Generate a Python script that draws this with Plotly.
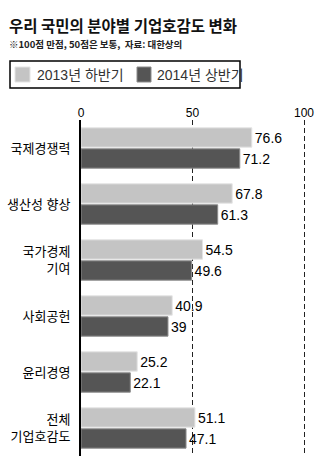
import plotly.graph_objects as go

categories = ["국제경쟁력", "생산성 향상", "국가경제<br>기여", "사회공헌", "윤리경영", "전체<br>기업호감도"]
series_names = ["2013년 하반기", "2014년 상반기"]
values_2013h2 = [76.6, 67.8, 54.5, 40.9, 25.2, 51.1]
values_2014h1 = [71.2, 61.3, 49.6, 39, 22.1, 47.1]
tick_values = [0, 50, 100]
title_text = "우리 국민의 분야별 기업호감도 변화"
subtitle_text = "※100점 만점, 50점은 보통,  자료: 대한상의"

W, H = 320, 469
L, R, T, B = 81, 3, 120, 13
PW, PH = W - L - R, H - T - B

def px(x):
    return (x - L) / PW

def py(y):
    return (H - B - y) / PH

FONT = "Liberation Sans, Arial, Noto Sans CJK KR, sans-serif"
LIGHT = "#c4c4c4"
DARK = "#555555"

fig = go.Figure()
for name, vals, col, lc in [
    (series_names[0], values_2013h2, LIGHT, "#e4e4e4"),
    (series_names[1], values_2014h1, DARK, "#8c8c8c"),
]:
    fig.add_trace(go.Bar(
        y=categories, x=vals, orientation="h", name=name,
        marker=dict(color=col, line=dict(color=lc, width=1)),
        text=[f"{v:g}" for v in vals], textposition="outside",
        textfont=dict(size=14, color="#000", family=FONT),
        constraintext="none", cliponaxis=False, showlegend=False,
    ))

shapes = [
    dict(type="rect", xref="paper", yref="paper", x0=px(10), x1=px(240), y0=py(61), y1=py(88),
         line=dict(color="#000", width=1.5), fillcolor="white"),
    dict(type="rect", xref="paper", yref="paper", x0=px(15), x1=px(30), y0=py(67), y1=py(82),
         line=dict(color="#e4e4e4", width=1), fillcolor=LIGHT),
    dict(type="rect", xref="paper", yref="paper", x0=px(137), x1=px(151), y0=py(67), y1=py(82),
         line=dict(color="#8c8c8c", width=1), fillcolor=DARK),
]
annotations = [
    dict(text=f"<b>{title_text}</b>", xref="paper", yref="paper", x=px(7), y=py(25),
         xanchor="left", yanchor="middle", showarrow=False,
         font=dict(size=15.5, color="#111", family="Noto Sans CJK KR")),
    dict(text=f"<b>{subtitle_text}</b>", xref="paper", yref="paper", x=px(7), y=py(44),
         xanchor="left", yanchor="middle", showarrow=False,
         font=dict(size=9.5, color="#222", family="Noto Sans CJK KR")),
    dict(text=series_names[0], xref="paper", yref="paper", x=px(35), y=py(75),
         xanchor="left", yanchor="middle", showarrow=False,
         font=dict(size=14, color="#333", family=FONT)),
    dict(text=series_names[1], xref="paper", yref="paper", x=px(155), y=py(75),
         xanchor="left", yanchor="middle", showarrow=False,
         font=dict(size=14, color="#333", family=FONT)),
]

fig.update_layout(
    width=W, height=H, margin=dict(l=L, r=R, t=T, b=B, pad=0),
    paper_bgcolor="white", plot_bgcolor="white",
    barmode="group", bargap=0.25, bargroupgap=0.08,
    font=dict(family=FONT, color="#000"),
    shapes=shapes, annotations=annotations,
    xaxis=dict(side="top", range=[0, PW / 2.23], tickvals=tick_values,
               showgrid=True, griddash="5px,3px", gridcolor="#222", gridwidth=1,
               zeroline=False, showline=False, ticks="",
               tickfont=dict(size=12, color="#000", family=FONT), fixedrange=True),
    yaxis=dict(autorange="reversed", showline=True, linecolor="#000", linewidth=2,
               showgrid=False, ticks="", ticklabelstandoff=6,
               tickfont=dict(size=13, color="#000", family=FONT), fixedrange=True),
)

fig.write_html("out.html")
